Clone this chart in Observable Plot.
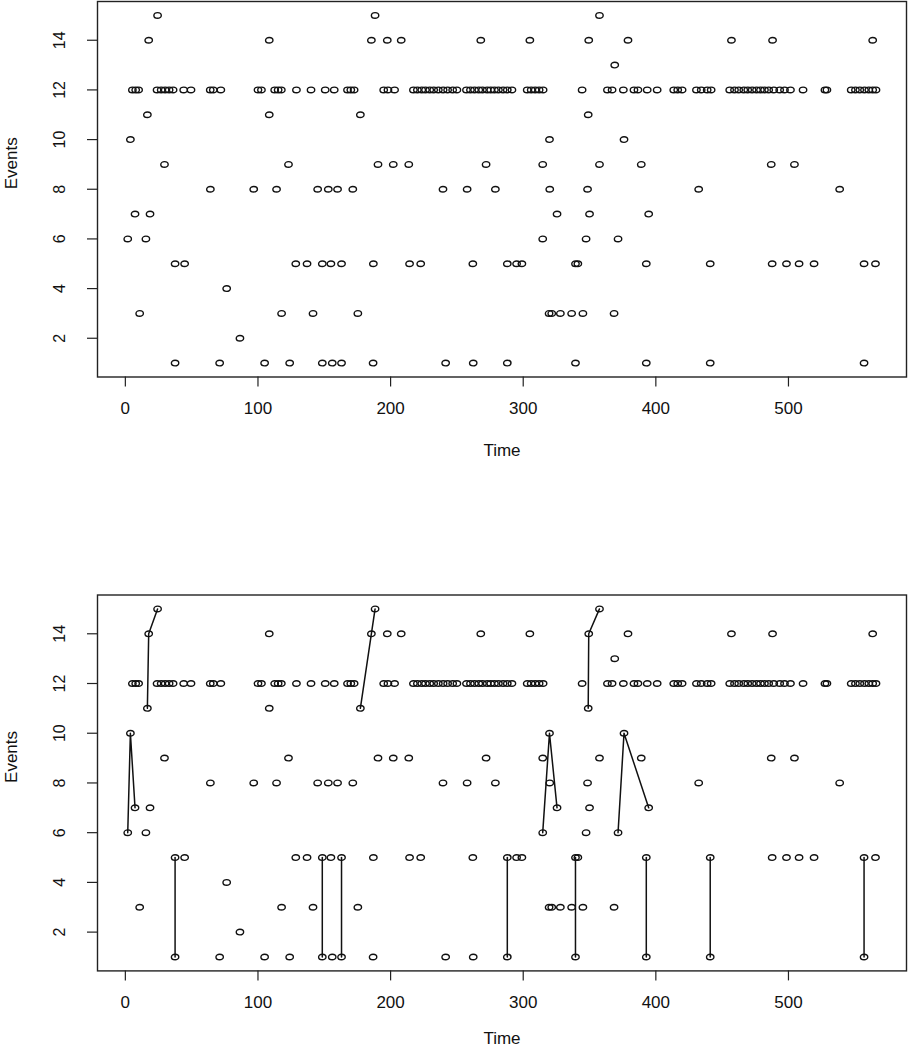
<!DOCTYPE html>
<html>
<head>
<meta charset="utf-8">
<script src="https://cdn.jsdelivr.net/npm/d3@7"></script>
<script src="https://cdn.jsdelivr.net/npm/@observablehq/plot@0.6"></script>
<style>
  html, body { margin: 0; padding: 0; background: #fff; }
  #chart svg { display: block; }
</style>
</head>
<body>
<div id="chart"></div>
<script>
// Times at which each event level occurs
const ev1  = [37.5, 71.1, 105, 123.9, 148.5, 156, 163, 186.8, 241.5, 262.3, 288, 339.4, 392.8, 441, 557];
const ev2  = [86.4];
const ev3  = [10.8, 117.8, 141.5, 175.3, 319.5, 321.5, 328, 336.5, 345, 368.5];
const ev4  = [76.4];
const ev5  = [37.5, 44.7, 128.5, 137, 148.5, 155, 163, 187, 214.3, 222.7, 262, 288, 295, 299, 339.4, 341.2, 392.8, 441, 487.7, 498.5, 508, 519.3, 557, 565.6];
const ev6  = [1.8, 15.5, 314.7, 347.4, 371.5];
const ev7  = [7.3, 18.6, 325.5, 350, 394.6];
const ev8  = [64.1, 96.8, 114, 145, 153, 160, 171.5, 239.5, 257.7, 279, 320, 348.5, 432.3, 538.6];
const ev9  = [29.5, 123, 190.5, 202, 213.7, 272, 314.7, 357.5, 389, 487, 504.5];
const ev10 = [3.8, 319.8, 376];
const ev11 = [16.6, 108.5, 177.2, 349];
const ev12 = [5.3, 7.8, 10, 23.9, 27, 30, 33, 36, 44, 49.5, 64, 66.3, 72, 100, 102.6, 112.6, 115.2, 117.6,
              129, 140, 150.7, 157.5, 167.5, 170, 172.5, 194.8, 198, 203, 217.2, 220.2, 223.5, 226.3, 229.5,
              232.5, 236, 239.6, 243, 246.8, 250, 257.2, 260.2, 263.3, 266.5, 269.3, 272.8, 275.5, 278.3, 281.3,
              284.8, 288, 291.5, 303, 306, 309, 312, 315, 344.4, 363.5, 367, 375.5, 383.5, 386.5, 393.5, 401,
              413.5, 416.5, 419.8, 430.6, 434.2, 438.7, 441.7, 455.7, 459.3, 462.5, 466.3, 469.3, 472.6, 475.9,
              478.9, 481.9, 485.1, 488.9, 493.4, 497, 501.5, 511, 527.5, 529, 547.3, 550.5, 553.8, 557.3, 560.6,
              563.5, 566];
const ev13 = [369];
const ev14 = [17.6, 108.5, 185.5, 197.5, 208, 268, 305, 349.4, 379, 457, 488, 563.5];
const ev15 = [24.3, 188.3, 357.5];

const eventLevels = [1, 2, 3, 4, 5, 6, 7, 8, 9, 10, 11, 12, 13, 14, 15];
const timesByLevel = [ev1, ev2, ev3, ev4, ev5, ev6, ev7, ev8, ev9, ev10, ev11, ev12, ev13, ev14, ev15];

// Linked sequences shown in the lower panel
const pathTimes  = [[1.8, 3.8, 7.3], [16.6, 17.6, 24.3], [37.5, 37.5], [148.5, 148.5], [163, 163],
                    [177.2, 185.5, 188.3], [288, 288], [314.7, 319.8, 325.5], [339.4, 339.4],
                    [349, 349.4, 357.5], [371.5, 376, 394.6], [392.8, 392.8], [441, 441], [557, 557]];
const pathEvents = [[6, 10, 7], [11, 14, 15], [5, 1], [5, 1], [5, 1],
                    [11, 14, 15], [5, 1], [6, 10, 7], [5, 1],
                    [11, 14, 15], [6, 10, 7], [5, 1], [5, 1], [5, 1]];

const xTicks = [0, 100, 200, 300, 400, 500];
const yTicks = [2, 4, 6, 8, 10, 12, 14];

// Build tables
const points = [];
eventLevels.forEach((lv, i) => timesByLevel[i].forEach(t => points.push({time: t, events: lv})));
const pathRows = [];
pathTimes.forEach((ts, g) => ts.forEach((t, j) => pathRows.push({group: g, time: t, events: pathEvents[g][j]})));

// Slightly wide open ellipse, like the stretched R circles
const ellipse = {
  draw(ctx) {
    const rx = 3.7, ry = 2.8, k = 0.5523, kx = rx * k, ky = ry * k;
    ctx.moveTo(rx, 0);
    ctx.bezierCurveTo(rx, ky, kx, ry, 0, ry);
    ctx.bezierCurveTo(-kx, ry, -rx, ky, -rx, 0);
    ctx.bezierCurveTo(-rx, -ky, -kx, -ry, 0, -ry);
    ctx.bezierCurveTo(kx, -ry, rx, -ky, rx, 0);
    ctx.closePath();
  }
};

const FONT = "Liberation Sans, Arial, Helvetica, sans-serif";

function panel(withLines, mTop, mBottom, titleDy) {
  const marks = [
    Plot.frame({stroke: "#222", strokeWidth: 1.4}),
    Plot.axisX({ticks: xTicks, tickSize: 10, tickFormat: () => "", label: null, stroke: "#222", strokeWidth: 1.2}),
    Plot.axisY({ticks: yTicks, tickSize: 10, tickFormat: () => "", label: null, stroke: "#222", strokeWidth: 1.2}),
    Plot.text(xTicks, {x: d => d, text: d => String(d), frameAnchor: "bottom", dy: 32, lineAnchor: "middle",
                       textAnchor: "middle", fontSize: 17, fill: "#111"}),
    Plot.text(yTicks, {y: d => d, text: d => String(d), frameAnchor: "left", dx: -38, rotate: -90,
                       lineAnchor: "middle", textAnchor: "middle", fontSize: 16, fill: "#111"}),
    Plot.text(["Time"], {text: d => d, frameAnchor: "bottom", dy: titleDy, lineAnchor: "middle", fontSize: 17, fill: "#111"}),
    Plot.text(["Events"], {text: d => d, frameAnchor: "left", dx: -86, rotate: -90, lineAnchor: "middle",
                           fontSize: 17, fill: "#111"})
  ];
  if (withLines) {
    marks.push(Plot.line(pathRows, {x: "time", y: "events", z: "group", stroke: "#111", strokeWidth: 1.5}));
  }
  marks.push(Plot.dot(points, {x: "time", y: "events", symbol: ellipse, stroke: "#111", fill: "none", strokeWidth: 1.4}));
  return Plot.plot({
    width: 908,
    height: 525,
    marginLeft: 97,
    marginRight: 2,
    marginTop: mTop,
    marginBottom: mBottom,
    style: {fontFamily: FONT, background: "#fff", color: "#111"},
    x: {domain: [-21, 589]},
    y: {domain: [0.44, 15.56]},
    marks
  });
}

const root = document.getElementById("chart");
root.appendChild(panel(false, 1, 148.5, 74));
root.appendChild(panel(true, 69.5, 79.6, 68));
</script>
</body>
</html>
